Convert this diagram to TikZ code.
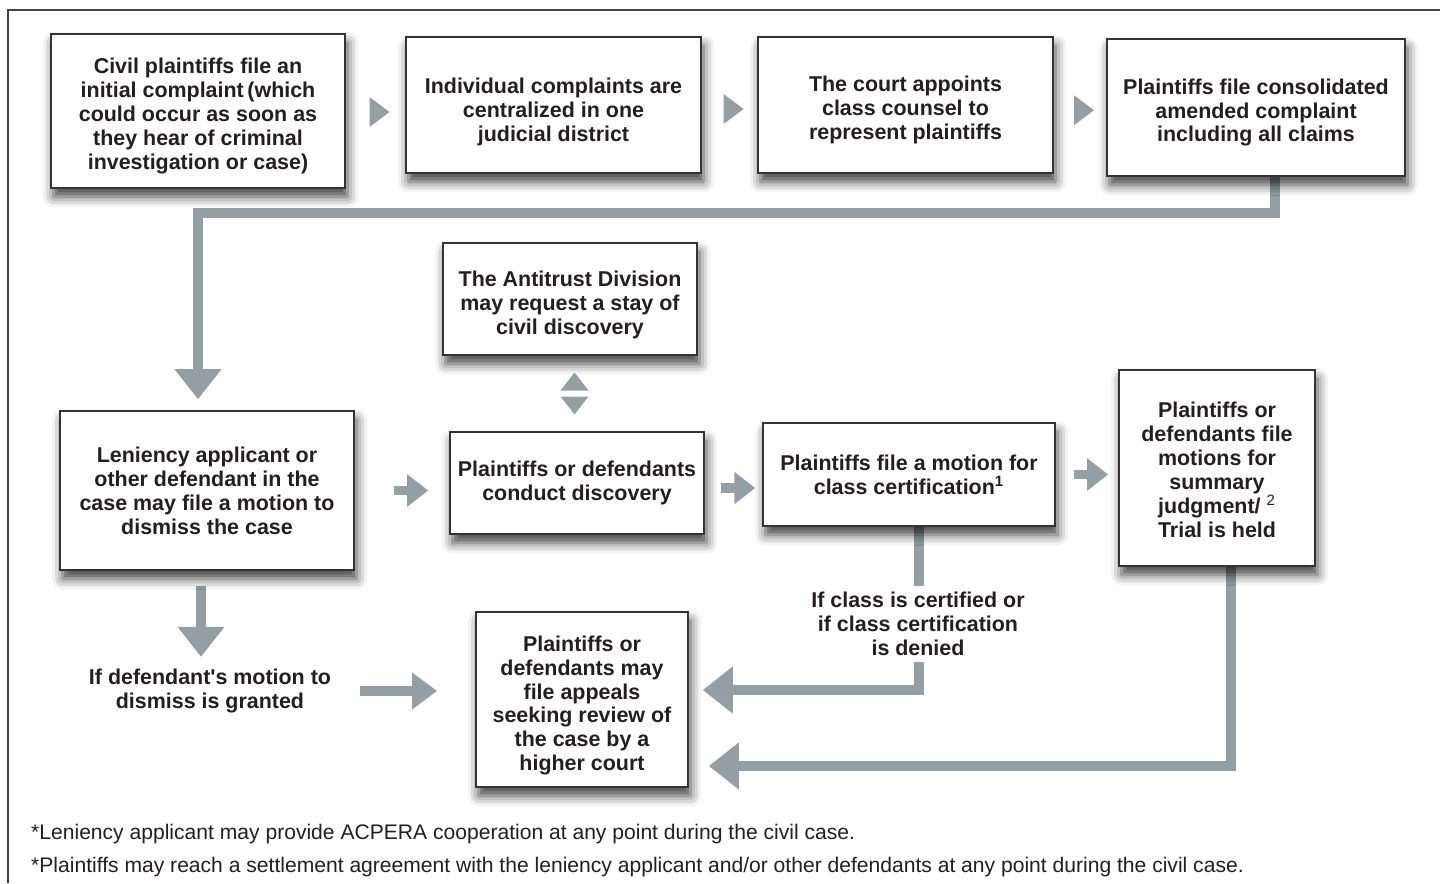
\documentclass[tikz,border=0pt]{standalone}
\usepackage{fontspec}
\setmainfont{Liberation Sans}
\usetikzlibrary{arrows.meta,calc,backgrounds,shadows.blur}
\definecolor{arrowgray}{HTML}{939FA3}
\definecolor{boxline}{HTML}{333333}
\definecolor{txt}{HTML}{231F20}
\definecolor{framegray}{HTML}{444444}
\newcommand{\topgap}[1]{\rule{0pt}{#1}}

\begin{document}
\begin{tikzpicture}[x=0.02cm, y=-0.02cm,
    stepbox/.style={draw=boxline, line width=0.9pt, fill=white, align=center, text=txt,
      font=\bfseries\fontsize{12.2}{13.6}\selectfont, inner sep=0pt,
      blur shadow={shadow xshift=1.5pt, shadow yshift=-5pt, shadow blur radius=6pt, shadow opacity=75}},
    steplabel/.style={align=center, text=txt, font=\bfseries\fontsize{12.2}{13.6}\selectfont},
    bigline/.style={draw=arrowgray, line width=0.2cm},
    bigarrow/.style={bigline, -{Triangle[width=0.9cm, length=0.6cm]}},
    midarrow/.style={bigline, -{Triangle[width=0.7cm, length=0.5cm]}},
    smallarrow/.style={draw=arrowgray, line width=0.19cm, -{Triangle[width=0.62cm, length=0.42cm]}},
    note/.style={anchor=base west, text=txt, font=\fontsize{12}{14}\selectfont}]

    \useasboundingbox (0,0) rectangle (1440,883);

    % Draw the frame
    \draw[framegray, line width=0.03cm] (8,883) -- (8,10) -- (1440,10);

    % Draw the top row
    \node[stepbox, minimum width=5.88cm, minimum height=3.08cm] (b1) at (198,111)
      {\topgap{14.6pt}Civil plaintiffs file an\\initial complaint\,(which\\could occur as soon as\\they hear of criminal\\investigation or case)};
    \node[stepbox, minimum width=5.9cm, minimum height=2.72cm] (b2) at (553.5,105)
      {\topgap{16.8pt}Individual complaints are\\centralized in one\\judicial district};
    \node[stepbox, minimum width=5.9cm, minimum height=2.72cm] (b3) at (905.5,105)
      {\topgap{14.6pt}The court appoints\\class counsel to\\represent plaintiffs};
    \node[stepbox, minimum width=5.96cm, minimum height=2.74cm] (b4) at (1256,107.5)
      {\topgap{14.6pt}Plaintiffs file consolidated\\amended complaint\\including all claims};

    % Draw the middle row
    \node[stepbox, minimum width=5.08cm, minimum height=2.24cm] (anti) at (570,299)
      {\topgap{15.7pt}The Antitrust Division\\may request a stay of\\civil discovery};
    \node[stepbox, minimum width=5.88cm, minimum height=3.18cm] (len) at (207,490.5)
      {Leniency applicant or\\other defendant in the\\case may file a motion to\\dismiss the case};
    \node[stepbox, minimum width=5.08cm, minimum height=2.04cm] (disc) at (577,483)
      {Plaintiffs or defendants\\conduct discovery};
    \node[stepbox, minimum width=5.84cm, minimum height=2.06cm] (cert) at (909,474.5)
      {Plaintiffs file a motion for\\class certification\textsuperscript{1}};
    \node[stepbox, minimum width=3.92cm, minimum height=3.92cm] (summ) at (1217,468)
      {\topgap{11pt}Plaintiffs or\\defendants file\\motions for\\summary\\judgment/ \textsuperscript{\mdseries 2}\\Trial is held};

    % Draw the bottom row
    \node[stepbox, minimum width=4.24cm, minimum height=3.5cm] (appeal) at (582,699.5)
      {\topgap{15.7pt}Plaintiffs or\\defendants may\\file appeals\\seeking review of\\the case by a\\higher court};
    \node[steplabel] (dismiss) at (210,691) {If defendant\textquotesingle s motion to\\dismiss is granted};
    \node[steplabel] (certlbl) at (918,624) {If class is certified or\\if class certification\\is denied};

    % Draw the triangles between the top boxes
    \foreach \a/\b in {b1/b2, b2/b3, b3/b4}
      \fill[arrowgray] ($(\a.east)!0.5!(\b.west)$) ++(-6,-11) -- ++(20,15) -- ++(-20,15) -- cycle;

    % Draw the double triangle
    \coordinate (stay) at ($(anti.south)!0.5!(disc.north)$);
    \fill[arrowgray] (stay) ++(-13,-3) -- ++(28,0) -- ++(-14,-18) -- cycle;
    \fill[arrowgray] (stay) ++(-13,3) -- ++(28,0) -- ++(-14,18) -- cycle;

    % Draw the connectors
    \begin{scope}[on background layer]
      \coordinate (turn) at (198,213);
      \coordinate (lentop) at ([yshift=0.22cm]len.north);
      \draw[bigarrow] ([xshift=0.38cm]b4.south) |- (turn) -- (lentop -| turn);

      \draw[smallarrow, shorten <=0.78cm, shorten >=0.42cm] (len.east) -- (len.east -| disc.west);
      \coordinate (dc) at ([yshift=-0.1cm]disc.east);
      \draw[smallarrow, shorten <=0.32cm, shorten >=0.14cm] (dc) -- (dc -| cert.west);
      \draw[smallarrow, shorten <=0.36cm, shorten >=0.2cm] (cert.east) -- (cert.east -| summ.west);

      \coordinate (lenout) at ([xshift=-0.12cm]len.south);
      \draw[bigarrow, shorten <=0.3cm, shorten >=0.12cm] (lenout) -- (lenout |- dismiss.north);
      \draw[midarrow, shorten <=0.46cm, shorten >=0.76cm] (dismiss.east) -- (dismiss.east -| appeal.west);

      \coordinate (certout) at ([xshift=0.2cm]cert.south);
      \coordinate (apin1) at ([xshift=0.28cm, yshift=0.19cm]appeal.east);
      \draw[bigline] (certout) -- (certout |- certlbl.north);
      \draw[bigarrow] (certout |- certlbl.south) |- (apin1);

      \coordinate (summout) at ([xshift=0.28cm]summ.south);
      \coordinate (apin2) at ([xshift=0.4cm, yshift=-1.33cm]appeal.east);
      \draw[bigarrow] (summout) |- (apin2);
    \end{scope}

    % Draw the notes
    \node[note] (n1) at (25,839) {*Leniency applicant may provide ACPERA cooperation at any point during the civil case.};
    \node[note] (n2) at (25,872) {*Plaintiffs may reach a settlement agreement with the leniency applicant and/or other defendants at any point during the civil case.};
\end{tikzpicture}
\end{document}
